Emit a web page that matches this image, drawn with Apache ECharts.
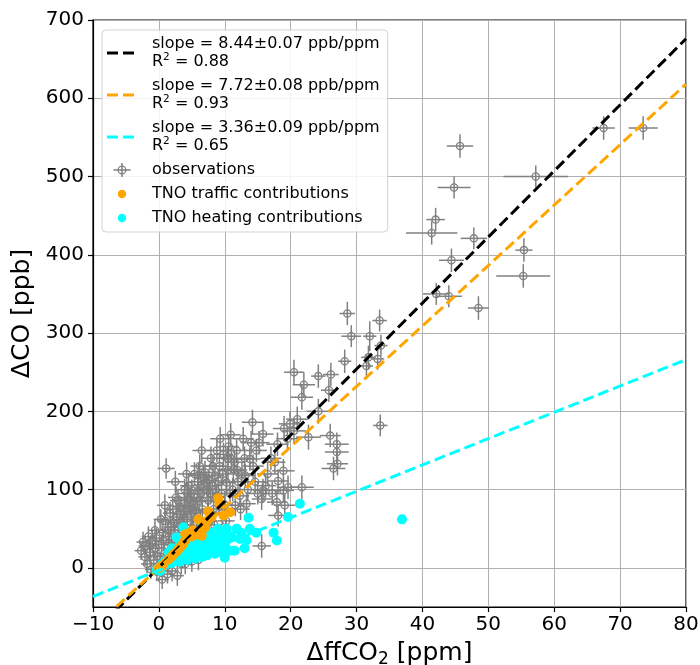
<!DOCTYPE html>
<html>
<head>
<meta charset="utf-8">
<script src="https://cdn.jsdelivr.net/npm/echarts@6/dist/echarts.min.js"></script>
<style>html,body{margin:0;padding:0;background:#fff;}#chart{width:700px;height:665px;}</style>
</head>
<body>
<div id="chart"></div>
<script>
// ---- tick labels ----
const xTicks = [-10, 0, 10, 20, 30, 40, 50, 60, 70, 80];
const yTicks = [0, 100, 200, 300, 400, 500, 600, 700];

// ---- fit lines (endpoints) ----
const fitAllLine = [[-10, -83.7], [80, 676]];
const fitTrafficLine = [[-10, -77], [80, 618]];
const fitHeatingLine = [[-10, -36.6], [80, 266]];
const fitSlopes = ['8.44±0.07', '7.72±0.08', '3.36±0.09'];
const fitR2 = ['0.88', '0.93', '0.65'];

// ---- observations: [ΔffCO2, ΔCO, xerr, yerr] ----
const observations = [
  [-2.4,33,1.0,13],[-2.1,28,1.0,12],[-2.1,14,1.0,12],[-1.4,20,1.0,13],[-1.8,5,0.9,12],[-1.2,-2,0.9,12],
  [-0.8,10,1.0,13],[-0.5,25,1.0,13],[-0.3,-5,0.9,12],[-1.0,35,1.0,14],[-0.2,15,1.0,12],[-2.7,22,1.0,12],
  [-1.6,40,1.0,13],[-0.6,48,1.0,13],[-1.3,28,1.0,13],[-0.4,38,1.0,13],
  [0.2,5,1.0,12],[0.4,30,1.0,13],[0.6,45,1.1,13],[0.8,18,1.0,12],[1.0,60,1.1,14],[1.1,127,1.3,13],
  [1.3,-8,1.0,12],[1.5,40,1.1,13],[1.7,70,1.1,14],[1.9,25,1.0,12],[0.5,-15,1.0,12],[1.1,10,1.0,12],
  [1.8,52,1.1,13],[0.9,80,1.2,14],[0.3,62,1.1,13],[0.7,35,1.0,13],[1.4,48,1.1,13],[1.6,32,1.0,13],
  [2.2,58,1.1,13],[2.4,35,1.1,13],[2.6,90,1.2,14],[2.9,86,1.2,14],[3.1,20,1.0,13],[3.3,68,1.2,14],
  [3.5,45,1.1,13],[3.7,62,1.2,14],[3.9,100,1.3,14],[2.1,75,1.2,14],[2.8,-10,1.0,13],[3.4,5,1.0,13],
  [2.5,110,1.3,14],[3.8,30,1.1,13],[2.3,15,1.0,12],[2.0,-4,1.0,13],[3.0,52,1.1,13],[2.7,65,1.2,14],
  [3.2,78,1.2,14],[2.4,48,1.1,13],[3.6,55,1.2,14],[3.9,72,1.2,14],
  [4.1,80,1.2,14],[4.3,55,1.2,13],[4.5,105,1.3,14],[4.7,40,1.1,13],[5.0,99,1.3,14],[5.2,70,1.2,14],
  [5.4,120,1.3,15],[5.5,73,1.2,14],[5.8,90,1.3,14],[6.0,50,1.2,13],[4.4,25,1.1,13],[5.6,30,1.1,13],
  [4.9,65,1.2,14],[5.9,110,1.3,14],[4.2,120,1.3,15],[4.0,5,1.0,13],[5.0,8,1.0,13],[6.0,10,1.1,13],
  [4.6,88,1.2,14],[4.8,78,1.2,14],[5.3,85,1.3,14],[5.7,62,1.2,14],[4.3,95,1.3,14],[5.1,50,1.2,13],
  [6.2,130,1.4,15],[6.4,95,1.3,14],[6.6,75,1.3,14],[6.8,115,1.3,14],[7.0,122,1.4,15],[7.25,109,1.3,14],
  [7.5,86,1.3,14],[7.7,60,1.2,14],[7.9,140,1.4,15],[6.3,60,1.2,14],[7.3,100,1.3,14],[6.9,45,1.2,13],
  [7.8,95,1.3,14],[6.5,150,1.4,15],[7.2,25,1.2,13],[6.1,85,1.3,14],[6.7,102,1.3,14],[7.4,72,1.3,14],
  [6.0,118,1.3,15],[7.6,112,1.4,15],
  [8.1,105,1.3,14],[8.3,75,1.3,14],[8.5,118,1.4,15],[8.7,90,1.3,14],[9.0,111,1.4,15],[9.2,130,1.4,15],
  [9.5,95,1.4,14],[9.8,145,1.5,15],[10.0,80,1.4,14],[8.8,150,1.5,15],[9.6,70,1.3,14],[8.4,55,1.3,14],
  [8.9,35,1.2,13],[9.3,165,1.5,15],[8.2,130,1.4,15],[8.6,100,1.4,14],[9.1,85,1.3,14],[9.7,120,1.4,15],
  [10.3,109,1.4,15],[10.5,125,1.5,15],[10.8,95,1.4,14],[11.0,139,1.5,15],[11.3,126,1.5,15],[11.5,135,1.5,15],
  [11.8,150,1.5,15],[12.0,110,1.5,15],[12.3,92,1.4,14],[10.6,155,1.5,15],[11.6,80,1.4,14],[10.2,60,1.3,14],
  [10.9,170,1.5,15],[11.2,100,1.4,15],[10.4,140,1.5,15],[11.9,125,1.5,15],
  [12.6,120,1.5,15],[13.0,140,1.6,15],[13.3,82,1.4,14],[13.8,139,1.6,15],[14.2,186,1.6,16],[14.3,130,1.6,15],
  [14.6,110,1.5,15],[15.0,95,1.5,14],[12.8,165,1.6,15],[13.5,100,1.5,15],[14.8,150,1.6,15],[12.4,75,1.4,14],
  [13.1,118,1.5,15],[14.0,160,1.6,15],
  [15.2,160,1.6,15],[15.6,88,1.5,14],[15.6,28,1.4,15],[15.8,171,1.6,16],[15.8,99,1.5,15],[16.5,120,1.6,15],
  [17.0,140,1.6,15],[17.6,135,1.6,15],[17.9,84,1.5,15],[18.1,111,1.6,15],[18.1,67,1.5,14],[18.9,124,1.7,15],
  [18.9,99,1.6,15],[19.0,178,1.7,16],[19.1,80,1.6,15],[19.6,103,1.7,15],[19.9,184,1.7,16],[16.2,105,1.6,15],
  [17.2,95,1.6,15],[19.5,165,1.7,16],[18.0,158,1.7,15],[20.5,175,1.8,16],
  [21.7,103,1.8,15],[22.7,167,1.9,16],[24.2,200,1.8,16],[21.7,218,1.7,16],[22.0,234,1.7,16],[20.5,250,1.5,16],
  [24.2,245,1.1,15],[26.1,247,1.2,15],[25.8,227,1.2,15],[26.0,169,1.6,15],[27.0,158,1.8,15],[27.0,148,1.8,15],
  [27.1,133,1.6,15],[26.5,127,1.8,15],[21.0,190,1.7,16],
  [28.6,325,1.2,15],[33.5,316,1.1,14],[29.2,296,1.5,14],[32.0,296,1.0,19],[33.7,284,1.0,14],[28.2,264,1.0,15],
  [31.8,269,1.1,15],[33.2,267,1.0,14],[31.5,258,1.0,14],[33.6,182,1.1,14],[42.1,350,2.0,14],[44.0,347,2.0,14],
  [48.5,332,1.6,15],[44.4,393,1.9,15],[55.3,373,4.1,15],[55.4,406,1.3,15],[47.8,421,2.0,14],[41.4,428,3.9,15],
  [42.0,445,1.4,15],[44.8,486,2.5,14],[45.7,539,2.0,15],[57.2,500,4.9,14],[67.5,562,1.7,15],[73.5,562,2.2,15]
];

// ---- TNO traffic contributions: [ΔffCO2, ΔCO] ----
const tnoTraffic = [
  [0.0,0],[0.4,2],[0.8,5],[1.2,8],[1.6,12],[2.0,15],[2.3,18],[2.7,21],[3.0,24],[3.3,27],[3.6,30],
  [3.9,34],[4.0,43],[4.2,38],[4.7,45],[5.0,40],[5.4,44],[5.7,43],[6.0,62],[6.2,47],[6.5,41],[6.7,58],
  [7.0,52],[7.5,72],[7.3,60],[8.0,65],[9.0,89],[9.2,82],[9.8,67],[10.8,71],[5.2,48],[4.4,42]
];

// ---- TNO heating contributions: [ΔffCO2, ΔCO] ----
const tnoHeating = [
  [0.0,0],[0.3,2],[0.5,5],[0.7,3],[0.9,8],[1.1,5],[1.3,10],[1.5,7],[1.7,12],[1.9,6],[2.1,14],[2.3,9],
  [2.5,16],[2.7,11],[2.9,19],[3.1,8],[3.3,14],[3.5,21],[3.7,12],[3.9,18],[4.1,25],[4.3,10],[4.5,20],
  [4.7,28],[4.9,15],[5.1,22],[5.3,30],[5.5,12],[5.7,25],[5.9,18],[6.1,32],[6.3,20],[6.5,14],[6.7,27],
  [6.9,35],[7.1,22],[7.3,16],[7.5,30],[7.7,38],[7.9,20],[8.1,26],[8.3,33],[8.5,18],[8.7,28],[8.9,40],
  [9.1,24],[9.3,35],[9.5,20],[9.7,30],[9.9,42],[10.1,27],[10.3,50],[10.5,38],[10.8,22],[11.0,40],
  [11.5,22],[11.8,50],[12.3,37],[13.3,35],[13.6,64],[13.8,50],[14.8,45],[17.4,45],[17.9,35],
  [19.6,65],[21.4,82],[36.9,62],[2.7,39],[3.7,52],[3.2,30],[5.8,40],[6.7,54],[6.5,50],[8.5,41],[1.5,20],
  [2.0,25],[6.0,45],[8.0,45],[9.0,50],[12.5,45],[13.0,25],[10.0,13],[-0.3,-2],[0.2,-4]
];

const OBS = '#808080';
const ORANGE = '#FFA500';
const CYAN = '#00FFFF';
const FONT = 'DejaVu Sans';

const fitNames = ['fitAll', 'fitTraffic', 'fitHeating'];
const DASH_ICON = 'path://M0,0M30,14M0,5.5H11V8.5H0ZM16,5.5H27V8.5H16Z';
const OBS_ICON = 'path://M0,0M30,14M6.5,6.25H23.5V7.75H6.5ZM14.25,0H15.75V14H14.25ZM19.5,7A4.5,4.5,0,1,1,10.5,7A4.5,4.5,0,1,1,19.5,7ZM18.2,7A3.2,3.2,0,1,0,11.8,7A3.2,3.2,0,1,0,18.2,7Z';
const DOT_ICON = 'path://M0,0M30,14M19.2,7A4.2,4.2,0,1,1,10.8,7A4.2,4.2,0,1,1,19.2,7Z';

function renderObs(params, api) {
  const x = api.value(0), y = api.value(1), xe = api.value(2), ye = api.value(3);
  const c = api.coord([x, y]);
  const l = api.coord([x - xe, y]), r = api.coord([x + xe, y]);
  const t = api.coord([x, y + ye]), b = api.coord([x, y - ye]);
  const st = { stroke: OBS, lineWidth: 1.5, fill: null };
  return {
    type: 'group',
    children: [
      { type: 'line', shape: { x1: l[0], y1: l[1], x2: r[0], y2: r[1] }, style: st },
      { type: 'line', shape: { x1: t[0], y1: t[1], x2: b[0], y2: b[1] }, style: st },
      { type: 'circle', shape: { cx: c[0], cy: c[1], r: 3.6 }, style: { stroke: OBS, lineWidth: 1.3, fill: null } }
    ]
  };
}

function fitSeries(name, data, color) {
  return {
    name: name, type: 'line', data: data, symbol: 'none', silent: true, z: 10, clip: true,
    itemStyle: { color: color },
    lineStyle: { color: color, width: 3, type: [11, 5] }
  };
}

const chart = echarts.init(document.getElementById('chart'), null, { renderer: 'canvas' });
chart.setOption({
  animation: false,
  backgroundColor: '#fff',
  textStyle: { fontFamily: FONT },
  grid: { left: 93, right: 14, top: 20, bottom: 58, containLabel: false, outerBoundsMode: 'none',
    show: true, borderColor: '#000', borderWidth: 1.2, backgroundColor: 'transparent' },
  xAxis: {
    type: 'value', min: -10, max: 80,
    name: 'ΔffCO{sub|2} [ppm]', nameLocation: 'middle', nameGap: 32,
    nameTextStyle: { fontSize: 25, color: '#000', fontFamily: FONT, rich: { sub: { fontSize: 17, padding: [12, 0, 0, 0], fontFamily: FONT, color: '#000' } } },
    axisLine: { show: true, onZero: false, lineStyle: { color: '#000', width: 1.2 } },
    axisTick: { show: true, length: 5, lineStyle: { color: '#000', width: 1.2 }, customValues: xTicks },
    axisLabel: { customValues: xTicks, fontSize: 20, color: '#000', fontFamily: FONT, margin: 8, formatter: v => String(v).replace('-', '−') },
    splitLine: { show: true, lineStyle: { color: '#b0b0b0', width: 1 } }
  },
  yAxis: {
    type: 'value', min: -50, max: 700,
    name: 'ΔCO [ppb]', nameLocation: 'middle', nameGap: 50, nameRotate: 90,
    nameTextStyle: { fontSize: 25, color: '#000', fontFamily: FONT },
    axisLine: { show: true, onZero: false, lineStyle: { color: '#000', width: 1.2 } },
    axisTick: { show: true, length: 5, lineStyle: { color: '#000', width: 1.2 }, customValues: yTicks },
    axisLabel: { customValues: yTicks, fontSize: 20, color: '#000', fontFamily: FONT, margin: 9 },
    splitLine: { show: true, lineStyle: { color: '#b0b0b0', width: 1 } }
  },
  legend: {
    orient: 'vertical', left: 102, top: 30,
    padding: [5, 8, 5, 5], itemGap: 6, itemWidth: 30, itemHeight: 14,
    backgroundColor: 'rgba(255,255,255,0.85)', borderColor: '#d3d3d3', borderWidth: 1, borderRadius: 4,
    itemStyle: { borderWidth: 0 },
    selectedMode: false,
    textStyle: {
      fontSize: 16, lineHeight: 18, color: '#000', fontFamily: FONT, padding: [0, 0, 0, 10],
      rich: { sup: { fontSize: 10.5, padding: [0, 0, 9, 0], fontFamily: FONT, color: '#000' } }
    },
    data: [
      { name: 'fitAll', icon: DASH_ICON },
      { name: 'fitTraffic', icon: DASH_ICON },
      { name: 'fitHeating', icon: DASH_ICON },
      { name: 'observations', icon: OBS_ICON },
      { name: 'TNO traffic contributions', icon: DOT_ICON },
      { name: 'TNO heating contributions', icon: DOT_ICON }
    ],
    formatter: function (name) {
      const i = fitNames.indexOf(name);
      if (i >= 0) return 'slope = ' + fitSlopes[i] + ' ppb/ppm\nR{sup|2} = ' + fitR2[i];
      return name;
    }
  },
  series: [
    {
      name: 'observations', type: 'custom', renderItem: renderObs, data: observations,
      encode: { x: 0, y: 1 }, itemStyle: { color: OBS }, clip: true, z: 2, silent: true
    },
    {
      name: 'TNO traffic contributions', type: 'scatter', data: tnoTraffic, symbolSize: 10,
      itemStyle: { color: ORANGE, opacity: 1 }, z: 4, silent: true
    },
    {
      name: 'TNO heating contributions', type: 'scatter', data: tnoHeating, symbolSize: 10,
      itemStyle: { color: CYAN, opacity: 1 }, z: 3, silent: true
    },
    fitSeries('fitAll', fitAllLine, '#000000'),
    fitSeries('fitTraffic', fitTrafficLine, ORANGE),
    fitSeries('fitHeating', fitHeatingLine, CYAN)
  ]
});
</script>
</body>
</html>
